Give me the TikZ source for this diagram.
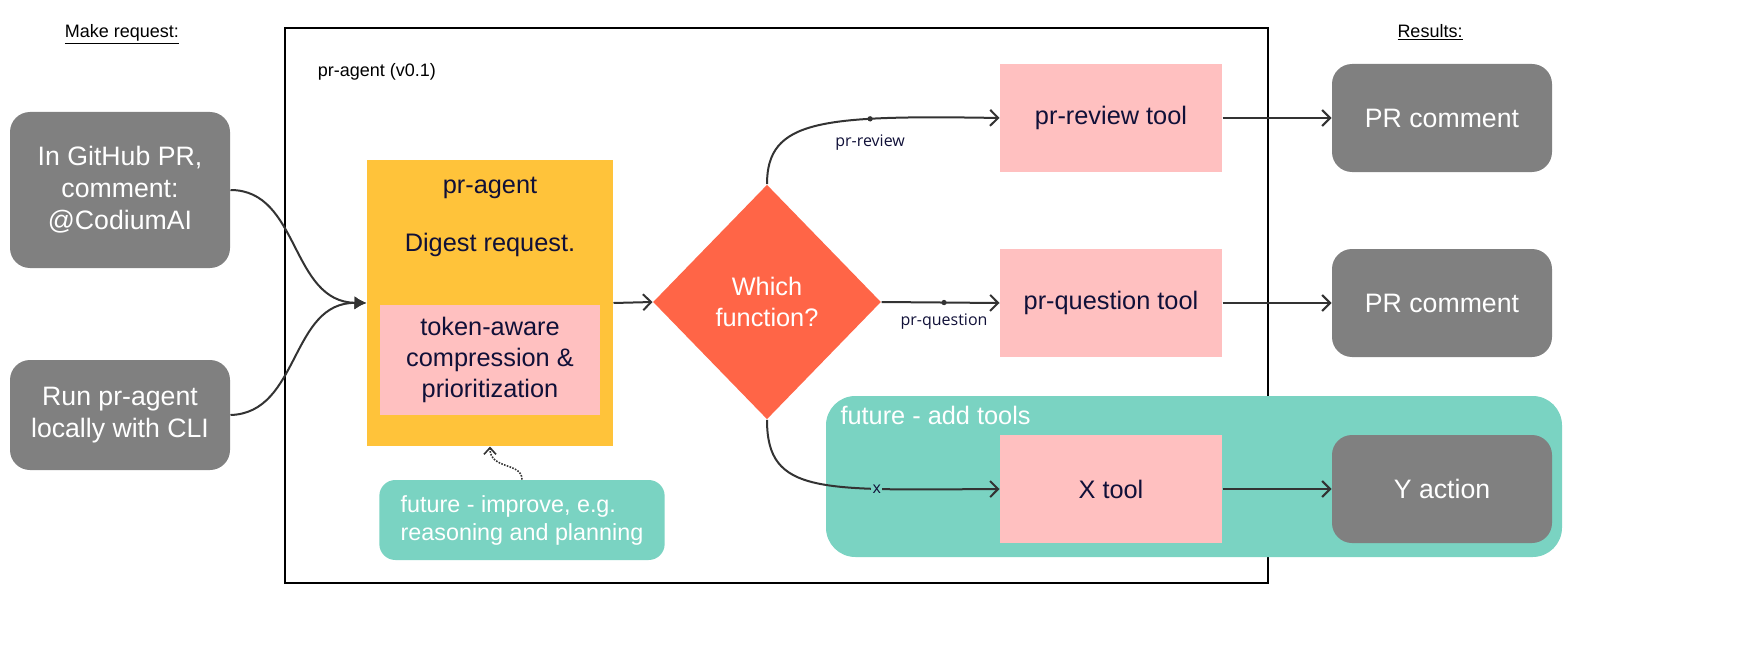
\documentclass[tikz,border=0pt]{standalone}
\usepackage{fontspec}
\setmainfont{Liberation Sans}
\newfontfamily\lblfont{Open Sans}
\usetikzlibrary{shapes.geometric,arrows.meta,positioning}
\definecolor{boxgray}{RGB}{128,128,128}
\definecolor{agentyellow}{RGB}{255,195,58}
\definecolor{toolpink}{RGB}{255,192,192}
\definecolor{whichred}{RGB}{255,101,71}
\definecolor{futureteal}{RGB}{122,211,194}
\definecolor{navytext}{RGB}{16,16,56}
\tikzset{every picture/.style={line width=0.75pt}}
\tikzset{
  graybox/.style={rectangle,rounded corners=15pt,fill=boxgray,text=white,align=center,font=\fontsize{20}{24}\selectfont,inner sep=0pt},
  toolbox/.style={rectangle,fill=toolpink,text=navytext,align=center,minimum width=166.5pt,minimum height=81pt,font=\fontsize{19}{23}\selectfont,inner sep=0pt},
  resbox/.style={graybox,minimum width=165pt,minimum height=81pt},
  link/.style={draw=black!80,line width=1.5pt,-{Straight Barb[length=6pt,width=12pt]}},
  edgelbl/.style={font=\lblfont\fontsize{12}{14}\selectfont,text=navytext},
  waydot/.style={circle,fill=black!80,inner sep=0pt,minimum size=4pt},
}
\begin{document}
\begin{tikzpicture}[x=0.75pt,y=0.75pt,yscale=-1,xscale=1]
\useasboundingbox (0,0) rectangle (1743,667);

% headings
\node (mkreq) at (122,34) {\fontsize{13.5}{16}\selectfont\underline{Make request:}};
\node (resh) at (1430,32) {\fontsize{13.5}{16}\selectfont\underline{Results:}};

% frame and future area
\draw[line width=1.5pt] (285,28) rectangle (1268,583);
\node[anchor=west] (ver) at (313,72) {\fontsize{13.5}{16}\selectfont pr-agent (v0.1)};
\fill[futureteal] (826,396) [rounded corners=22pt] rectangle (1562,557);
\node[anchor=north west,text=white,font=\fontsize{19}{23}\selectfont,inner sep=0pt] (addt) at (840,406) {future - add tools};

% requests
\node[graybox,minimum width=165pt,minimum height=117pt] (ghpr) at (120,190) {In GitHub PR,\\comment:\\@CodiumAI};
\node[graybox,minimum width=165pt,minimum height=82.5pt] (cli) at (120,415) {Run pr-agent\\locally with CLI};

% pr-agent block
\node[rectangle,fill=agentyellow,minimum width=184.5pt,minimum height=214.5pt,inner sep=0pt] (agent) at (490,303) {};
\node[text=navytext,font=\fontsize{19}{23}\selectfont] (agentt) at (490,188) {pr-agent};
\node[text=navytext,font=\fontsize{19}{23}\selectfont] (digest) at (490,245) {Digest request.};
\node[toolbox,minimum width=165pt,minimum height=82.5pt] (token) at (490,360) {token-aware\\compression \&\\prioritization};
\node[rectangle,rounded corners=12pt,fill=futureteal,text=white,align=left,minimum width=214pt,minimum height=60pt,font=\fontsize{17.5}{21}\selectfont,inner sep=0pt] (improve) at (522,520) {future - improve, e.g.\\reasoning and planning};

% decision
\node[diamond,fill=whichred,text=white,align=center,minimum width=171pt,minimum height=176pt,inner sep=0pt,font=\fontsize{19}{23}\selectfont] (which) at (767,302) {Which\\function?};

% tools
\node[toolbox] (review) at (1111,118) {pr-review tool};
\node[toolbox] (question) at (1111,303) {pr-question tool};
\node[toolbox] (xtool) at (1111,489) {X tool};

% results
\node[resbox] (res1) at (1442,118) {PR comment};
\node[resbox] (res2) at (1442,303) {PR comment};
\node[resbox] (res3) at (1442,489) {Y action};

% connectors
\draw[link,-{Latex[length=9pt,width=10pt]}] (ghpr.east) .. controls (300,190) and (290,302) .. (agent.west);
\draw[link,-{Latex[length=9pt,width=10pt]}] (cli.east) .. controls (300,413) and (290,302) .. (agent.west);
\draw[link] (agent.east) -- (which.west);
\draw[link] (which.north) .. controls (767,120) and (820,115) .. node[pos=0.7,waydot]{} node[pos=0.7,below=8pt,edgelbl]{pr-review} (review.west);
\draw[link] (which.east) -- node[pos=0.53,waydot]{} node[pos=0.53,below=4pt,edgelbl]{pr-question} (question.west);
\draw[link] (which.south) .. controls (767,495) and (820,490) .. node[pos=0.72,edgelbl,fill=futureteal,inner sep=1pt]{x} (xtool.west);
\draw[link] (review.east) -- (res1.west);
\draw[link] (question.east) -- (res2.west);
\draw[link] (xtool.east) -- (res3.west);
\draw[black!80,line width=1.2pt,densely dotted,-{Straight Barb[length=5pt,width=9pt]}] (improve.north) .. controls (522,462) and (490,470) .. (agent.south);
\end{tikzpicture}
\end{document}
